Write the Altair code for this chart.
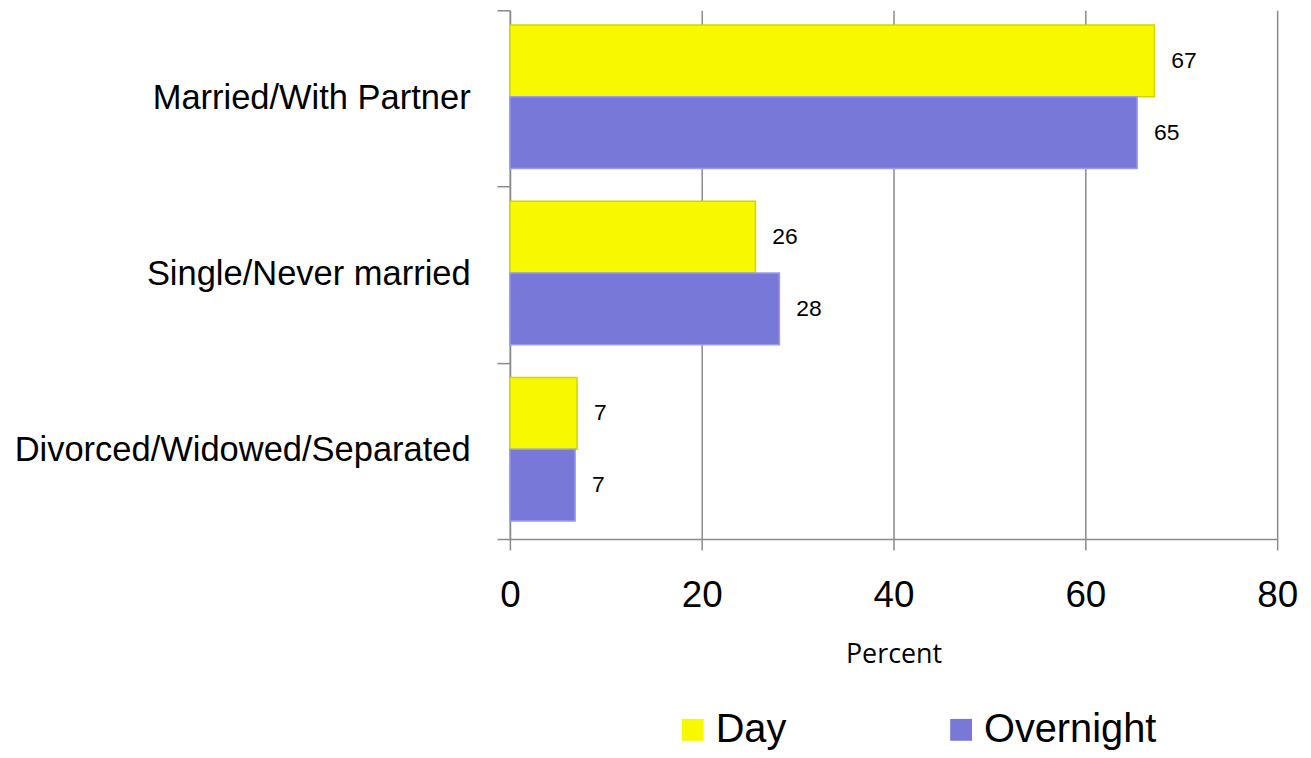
import altair as alt
import pandas as pd

categories = ["Married/With Partner", "Single/Never married", "Divorced/Widowed/Separated"]
series = ["Day", "Overnight"]
day_values = [67.2, 25.6, 7.0]
overnight_values = [65.4, 28.1, 6.8]
x_ticks = [0, 20, 40, 60, 80]
fill_colors = ["#F8F800", "#7878D8"]
stroke_colors = ["#D4D400", "#9A9AF0"]

rows = []
for c, d, o in zip(categories, day_values, overnight_values):
    rows.append({"category": c, "series": series[0], "value": d})
    rows.append({"category": c, "series": series[1], "value": o})
df = pd.DataFrame(rows)

GRID = "#8a8a8a"

y_enc = alt.Y(
    "category:N", sort=categories, title=None,
    scale=alt.Scale(paddingInner=0, paddingOuter=0),
    axis=alt.Axis(
        tickBand="extent", labelFont="Liberation Sans",
        labelFontSize=34.7, labelColor="black", labelPadding=27, labelLimit=600,
        tickSize=13, tickColor=GRID, tickWidth=1.5, domainColor=GRID, domainWidth=1.5,
        grid=False,
    ),
)
yoff_enc = alt.YOffset("series:N", sort=series,
                       scale=alt.Scale(paddingInner=0, paddingOuter=0.23, align=0.45))
x_enc = alt.X(
    "value:Q", scale=alt.Scale(domain=[0, 80], nice=False),
    axis=alt.Axis(
        values=x_ticks, title="Percent", titleFont="Open Sans", titleFontSize=27,
        titleFontWeight="normal", titleColor="black", titlePadding=28,
        labelFont="Liberation Sans", labelFontSize=37, labelColor="black", labelPadding=28,
        tickSize=11, tickColor=GRID, tickWidth=1.5, domainColor=GRID, domainWidth=1.5,
        grid=True, gridColor=GRID, gridWidth=1.5, labelFlush=False,
    ),
)

color_enc = alt.Color(
    "series:N", sort=series,
    scale=alt.Scale(domain=series, range=fill_colors),
    legend=alt.Legend(
        title=None, orient="none", direction="horizontal", legendX=164, legendY=704,
        symbolType="square", symbolSize=484, symbolStrokeWidth=0,
        labelFont="Liberation Sans", labelFontSize=40, labelColor="black", labelLimit=400,
        labelOffset=3, columnPadding=155, padding=0,
    ),
)
stroke_enc = alt.Stroke("series:N", scale=alt.Scale(domain=series, range=stroke_colors), legend=None)

bars = alt.Chart(df).mark_bar(strokeWidth=1.5).encode(
    x=x_enc, y=y_enc, yOffset=yoff_enc, color=color_enc, stroke=stroke_enc
)

labels = alt.Chart(df).mark_text(
    align="left", baseline="middle", dx=17, fontSize=23, font="Liberation Sans", color="black"
).encode(
    x=alt.X("value:Q"), y=alt.Y("category:N", sort=categories),
    yOffset=alt.YOffset("series:N", sort=series),
    text=alt.Text("value:Q", format=".0f"),
)

chart = alt.layer(bars, labels).properties(
    width=772, height=532,
    autosize=alt.AutoSizeParams(type="none"),
    padding={"left": 505, "top": 0, "right": 26, "bottom": 212},
    background="white",
).configure_view(stroke=None)

chart.save("out.html", embed_options={"renderer": "svg", "actions": False})
